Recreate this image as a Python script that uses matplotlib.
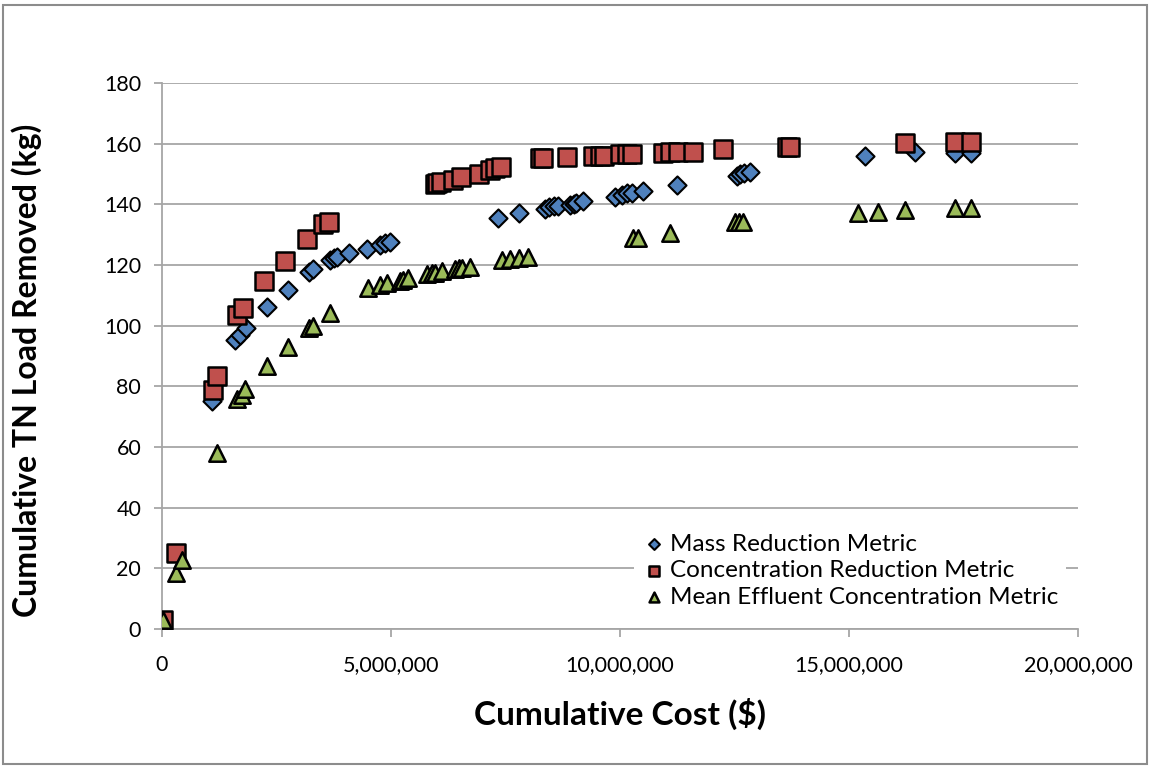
import numpy as np
import matplotlib
matplotlib.use("Agg")
from matplotlib import pyplot as plt
from matplotlib.ticker import FuncFormatter
from matplotlib.patches import Rectangle

# cumulative cost ($) and cumulative TN load removed (kg)
mass_cost = [0, 1.09e6, 1.60e6, 1.70e6, 1.83e6, 2.29e6, 2.75e6, 3.21e6, 3.30e6,
             3.67e6, 3.75e6, 3.82e6, 4.08e6, 4.48e6, 4.76e6, 4.87e6, 4.98e6,
             7.34e6, 7.80e6, 8.36e6, 8.45e6, 8.55e6, 8.65e6, 8.90e6, 9.00e6,
             9.05e6, 9.20e6, 9.90e6, 10.04e6, 10.15e6, 10.26e6, 10.50e6,
             11.24e6, 12.55e6, 12.62e6, 12.70e6, 12.84e6,
             15.35e6, 16.44e6, 17.31e6, 17.66e6]
mass_load = [0, 75.2, 95.3, 97.0, 99.2, 106.0, 111.8, 117.7, 118.7,
             121.7, 122.2, 122.7, 124.0, 125.3, 126.6, 127.3, 127.6,
             135.5, 137.0, 138.5, 139.0, 139.3, 139.5, 139.8, 140.2,
             140.5, 141.1, 142.4, 143.2, 143.6, 143.8, 144.4,
             146.4, 149.5, 149.9, 150.3, 150.7,
             156.0, 157.3, 157.0, 157.0]

conc_cost = [0, 0.02e6, 0.31e6, 1.11e6, 1.20e6, 1.64e6, 1.76e6, 2.23e6, 2.69e6,
             3.16e6, 3.52e6, 3.65e6, 5.95e6, 6.0e6, 6.1e6, 6.35e6, 6.52e6,
             6.92e6, 7.16e6, 7.27e6, 7.40e6, 8.25e6, 8.32e6, 8.84e6, 9.41e6,
             9.56e6, 9.65e6, 10.0e6, 10.15e6, 10.26e6, 10.94e6, 11.09e6,
             11.27e6, 11.60e6, 12.25e6, 13.65e6, 13.71e6, 16.22e6, 17.31e6,
             17.66e6]
conc_load = [2.0, 3.0, 25.0, 78.8, 83.4, 103.5, 105.8, 114.7, 121.3,
             128.5, 133.5, 134.2, 146.6, 147.0, 147.2, 148.0, 149.0,
             150.0, 151.3, 152.0, 152.3, 155.3, 155.3, 155.6, 156.0,
             156.0, 156.0, 156.6, 156.6, 156.6, 157.0, 157.3,
             157.3, 157.3, 158.3, 159.0, 159.0, 160.3, 160.6, 160.6]

mean_cost = [0, 0.02e6, 0.31e6, 0.43e6, 1.20e6, 1.64e6, 1.74e6, 1.81e6, 2.29e6,
             2.75e6, 3.21e6, 3.30e6, 3.67e6, 4.50e6, 4.76e6, 4.91e6, 5.20e6,
             5.26e6, 5.37e6, 5.79e6, 5.90e6, 5.96e6, 6.11e6, 6.40e6, 6.48e6,
             6.55e6, 6.72e6, 7.42e6, 7.60e6, 7.80e6, 7.99e6, 10.28e6, 10.39e6,
             11.09e6, 12.51e6, 12.60e6, 12.69e6, 15.20e6, 15.63e6, 16.22e6,
             17.31e6, 17.66e6]
mean_load = [1.0, 3.0, 18.5, 22.8, 58.0, 75.8, 77.0, 79.0, 86.7,
             93.0, 99.2, 100.0, 104.2, 112.4, 113.4, 114.1, 114.7,
             115.0, 115.7, 117.0, 117.2, 117.4, 118.0, 118.7, 118.9,
             119.0, 119.4, 121.7, 122.0, 122.3, 122.7, 129.0, 129.0,
             130.6, 134.2, 134.2, 134.2, 137.2, 137.5, 138.1,
             138.8, 138.8]


def main():
    plt.rcParams["font.family"] = ["Lato", "DejaVu Sans"]
    fig = plt.figure(figsize=(11.52, 7.67), dpi=100)
    ax = fig.add_axes([162 / 1152, 1 - 629 / 767, 916 / 1152, 546 / 767])

    grid_c = "#a6a6a6"
    ax.scatter(mass_cost, mass_load, marker="D", s=85, color="#4f81bd",
               edgecolors="black", linewidths=1.5, zorder=3,
               label="Mass Reduction Metric")
    ax.scatter(conc_cost, conc_load, marker="s", s=150, color="#c0504d",
               edgecolors="black", linewidths=1.8, zorder=3,
               label="Concentration Reduction Metric")
    ax.scatter(mean_cost, mean_load, marker="^", s=140, color="#9bbb59",
               edgecolors="black", linewidths=1.8, zorder=3,
               label="Mean Effluent Concentration Metric")

    ax.set_xlim(0, 20e6)
    ax.set_ylim(0, 180)
    ax.set_xticks(np.arange(0, 20e6 + 1, 5e6))
    ax.set_yticks(np.arange(0, 181, 20))
    ax.xaxis.set_major_formatter(FuncFormatter(lambda v, p: f"{int(v):,}"))
    ax.grid(axis="y", color=grid_c, linewidth=1.3, zorder=0)
    ax.set_axisbelow(True)
    for s in ("top", "right"):
        ax.spines[s].set_visible(False)
    for s in ("left", "bottom"):
        ax.spines[s].set_color(grid_c)
        ax.spines[s].set_linewidth(1.3)
    ax.tick_params(axis="both", colors=grid_c, width=1.3, length=6,
                   labelcolor="black", labelsize=15.5)
    ax.tick_params(axis="x", pad=13)
    ax.tick_params(axis="y", pad=9)

    ax.set_xlabel("Cumulative Cost ($)", fontsize=24, fontweight="bold",
                  labelpad=16)
    ax.set_ylabel("Cumulative TN Load Removed (kg)", fontsize=23,
                  fontweight="bold")
    ax.yaxis.set_label_coords(-0.131, 0.474)

    leg = ax.legend(loc="lower right", bbox_to_anchor=(1.0, 0.0036),
                    fontsize=17.5, frameon=True, fancybox=False,
                    handletextpad=0.1, labelspacing=0.22, borderpad=0.3,
                    handlelength=1.1, markerscale=0.6)
    leg.get_frame().set_facecolor("white")
    leg.get_frame().set_edgecolor("none")
    leg.get_frame().set_alpha(1)

    fig.add_artist(Rectangle((3 / 1152, 3 / 767), 1144 / 1152, 759 / 767,
                             transform=fig.transFigure, fill=False,
                             edgecolor="#8c8c8c", linewidth=1.5))

    fig.savefig("out.png", dpi=100)


if __name__ == "__main__":
    main()
